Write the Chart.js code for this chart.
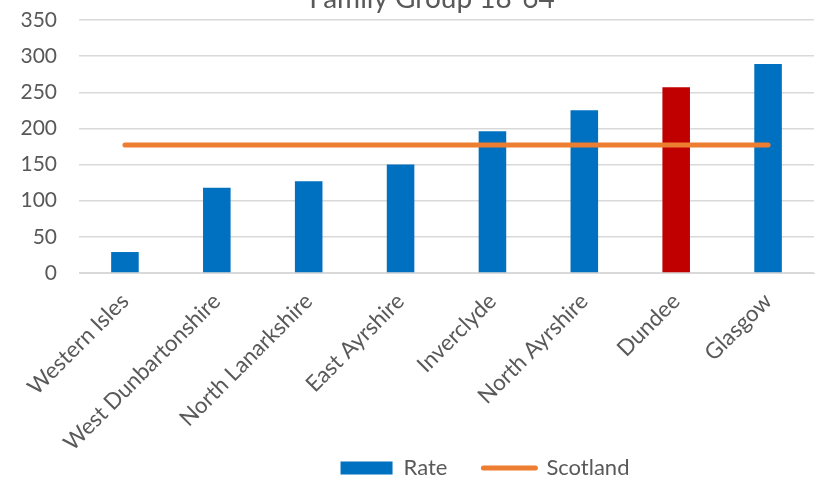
<!DOCTYPE html>
<html>
<head>
<meta charset="utf-8">
<script src="https://cdn.jsdelivr.net/npm/chart.js@4"></script>
<style>
	html, body { margin: 0; padding: 0; background: #fff; }
	#wrap { width: 820px; height: 478px; }
</style>
</head>
<body>
<div id="wrap"><canvas id="chart"></canvas></div>
<script>
var councils = ["Western Isles", "West Dunbartonshire", "North Lanarkshire", "East Ayrshire",
	"Inverclyde", "North Ayrshire", "Dundee", "Glasgow"];
var rates = [29, 118, 127, 150, 196, 225, 257, 289];
var scotland = [177, 177, 177, 177, 177, 177, 177, 177];
var yTicks = [0, 50, 100, 150, 200, 250, 300, 350];
var highlight = "Dundee";

var blue = "#0070C0", red = "#C00000", orange = "#ED7D31", grey = "#595959";
var font = "Lato, 'Noto Sans', sans-serif";

var barColors = councils.map(function(c){ return c === highlight ? red : blue; });

// title sits half off the top edge like in the original
var titlePlugin = {
	id: "cutTitle",
	afterLayout: function(chart) {
		// long rotated labels run down into the legend strip, don't clip them
		chart.scales.x.bottom = chart.height;
		// legend sits a bit right of centre
		chart.legend.left += 78;
		chart.legend.right += 78;
	},
	afterDraw: function(chart) {
		var ctx = chart.ctx;
		ctx.save();
		ctx.font = "28px " + font;
		ctx.fillStyle = grey;
		ctx.textAlign = "center";
		ctx.textBaseline = "alphabetic";
		ctx.fillText("Family Group 18-64", 432, 8);
		ctx.restore();
	}
};

new Chart(document.getElementById("chart"), {
	type: "bar",
	data: {
		labels: councils,
		datasets: [{
			label: "Rate",
			data: rates,
			backgroundColor: barColors,
			borderWidth: 0,
			barPercentage: 0.6,
			categoryPercentage: 0.5,
			pointStyle: "rect",
			order: 2
		}, {
			label: "Scotland",
			type: "line",
			data: scotland,
			borderColor: orange,
			backgroundColor: orange,
			borderWidth: 5,
			borderCapStyle: "round",
			pointRadius: 0,
			pointHoverRadius: 0,
			pointStyle: "line",
			order: 1
		}]
	},
	options: {
		responsive: true,
		maintainAspectRatio: false,
		animation: false,
		layout: { padding: { top: 20, right: 6, left: 0, bottom: -11 } },
		plugins: {
			title: { display: false },
			tooltip: { enabled: false },
			legend: {
				position: "bottom",
				labels: {
					usePointStyle: true,
					pointStyleWidth: 52,
					boxHeight: 13,
					color: grey,
					padding: 36,
					font: { family: font, size: 22 },
					sort: function(a, b){ return a.datasetIndex - b.datasetIndex; },
					generateLabels: function(chart) {
						var items = Chart.defaults.plugins.legend.labels.generateLabels(chart);
						items.forEach(function(it){
							if (it.text === "Rate") { it.fillStyle = blue; it.lineWidth = 0; }
							else { it.strokeStyle = orange; it.lineWidth = 5; it.lineCap = "round"; }
						});
						return items;
					}
				}
			}
		},
		scales: {
			x: {
				grid: { display: false },
				border: { color: "#D9D9D9", width: 1 },
				ticks: {
					color: grey,
					font: { family: font, size: 22.4 },
					minRotation: 45,
					maxRotation: 45,
					padding: 7
				},
				afterFit: function(scale){ scale.height = 148; }
			},
			y: {
				min: 0,
				max: 350,
				afterBuildTicks: function(scale){
					scale.ticks = yTicks.map(function(v){ return { value: v }; });
				},
				grid: { color: "#D9D9D9", lineWidth: 1.5, drawTicks: false },
				border: { display: false },
				ticks: {
					color: grey,
					font: { family: font, size: 21 },
					padding: 22
				},
				afterFit: function(scale){
					scale.width = 79;
					scale.paddingTop = 0;
					scale.paddingBottom = 0;
				}
			}
		}
	},
	plugins: [titlePlugin]
});
</script>
</body>
</html>
